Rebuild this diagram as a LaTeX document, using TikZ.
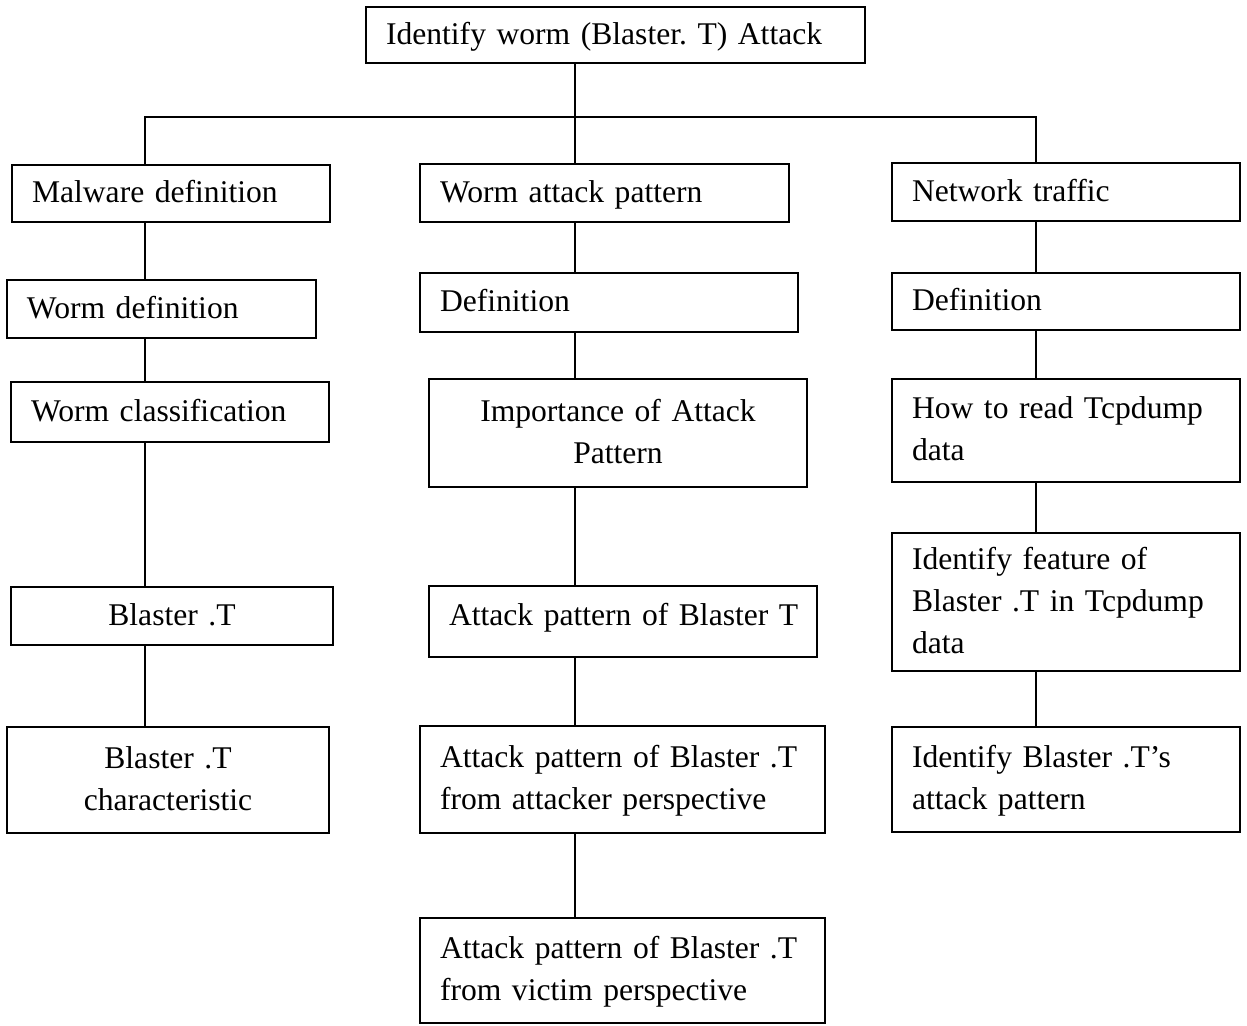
\documentclass[tikz,border=0pt]{standalone}
\usepackage{fontspec}
\setmainfont{Liberation Serif}
\newcommand{\fs}{\fontsize{31.6}{42}\selectfont\frenchspacing}
\newcommand{\st}{\rule[-0.22em]{0pt}{1.04em}}
\newcommand{\sthigh}{\rule[-0.56em]{0pt}{1.38em}}
\tikzset{
  box/.style={draw, line width=2pt, inner xsep=20pt, inner ysep=0pt, font=\fs, align=left},
  cbox/.style={box, align=center},
  link/.style={line width=2pt}
}
\begin{document}
\begin{tikzpicture}[x=1pt,y=-1pt]
\useasboundingbox (0,0) rectangle (1247,1025);
% top
\node[box, text width=459pt, minimum height=56pt] (top) at (615.5,35) {\st Identify worm (Blaster. T) Attack};
% left column
\node[box, text width=278pt, minimum height=57pt] (mal) at (171,193.5) {\st Malware definition};
\node[box, text width=269pt, minimum height=58pt] (wdef) at (161.5,309) {\st Worm definition};
\node[box, text width=278pt, minimum height=60pt] (wcls) at (170,412) {\st Worm classification};
\node[cbox, text width=282pt, minimum height=58pt] (bt) at (172,616) {\st Blaster .T};
\node[cbox, text width=282pt, minimum height=106pt] (btc) at (168,780) {\st Blaster .T\\\st characteristic};
% middle column
\node[box, text width=329pt, minimum height=58pt] (wap) at (604.5,193) {\st Worm attack pattern};
\node[box, text width=338pt, minimum height=59pt] (mdef) at (609,302.5) {\st Definition};
\node[cbox, text width=338pt, minimum height=108pt] (imp) at (618,433) {\st Importance of Attack\\\st Pattern};
\node[box, text width=348pt, minimum height=71pt] (apb) at (623,621.5) {\sthigh\mbox{Attack pattern of Blaster T}};
\node[box, text width=365pt, minimum height=107pt] (apa) at (622.5,779.5) {\st Attack pattern of Blaster .T\\\st from attacker perspective};
\node[box, text width=365pt, minimum height=105pt] (apv) at (622.5,970.5) {\st Attack pattern of Blaster .T\\\st from victim perspective};
% right column
\node[box, text width=308pt, minimum height=58pt] (nt) at (1066,192) {\st Network traffic};
\node[box, text width=308pt, minimum height=57pt] (rdef) at (1066,301.5) {\st Definition};
\node[box, text width=308pt, minimum height=103pt] (tcp) at (1066,430.5) {\st How to read Tcpdump\\\st data};
\node[box, text width=308pt, minimum height=138pt] (feat) at (1066,602) {\st Identify feature of\\\st Blaster .T in Tcpdump\\\st data};
\node[box, text width=308pt, minimum height=105pt] (iden) at (1066,779.5) {\st Identify Blaster .T’s\\\st attack pattern};
% connectors
\coordinate (barL) at (145,117);
\coordinate (barM) at (575,117);
\coordinate (barR) at (1036,117);
\draw[link] (top.south -| barM) -- (barM);
\draw[link] (mal.north -| barL) -- (barL) -- (barR) -- (nt.north -| barR);
\draw[link] (barM) -- (wap.north -| barM);
\draw[link] (mal.south -| barL) -- (wdef.north -| barL);
\draw[link] (wdef.south -| barL) -- (wcls.north -| barL);
\draw[link] (wcls.south -| barL) -- (bt.north -| barL);
\draw[link] (bt.south -| barL) -- (btc.north -| barL);
\draw[link] (wap.south -| barM) -- (mdef.north -| barM);
\draw[link] (mdef.south -| barM) -- (imp.north -| barM);
\draw[link] (imp.south -| barM) -- (apb.north -| barM);
\draw[link] (apb.south -| barM) -- (apa.north -| barM);
\draw[link] (apa.south -| barM) -- (apv.north -| barM);
\draw[link] (nt.south -| barR) -- (rdef.north -| barR);
\draw[link] (rdef.south -| barR) -- (tcp.north -| barR);
\draw[link] (tcp.south -| barR) -- (feat.north -| barR);
\draw[link] (feat.south -| barR) -- (iden.north -| barR);
\end{tikzpicture}
\end{document}
